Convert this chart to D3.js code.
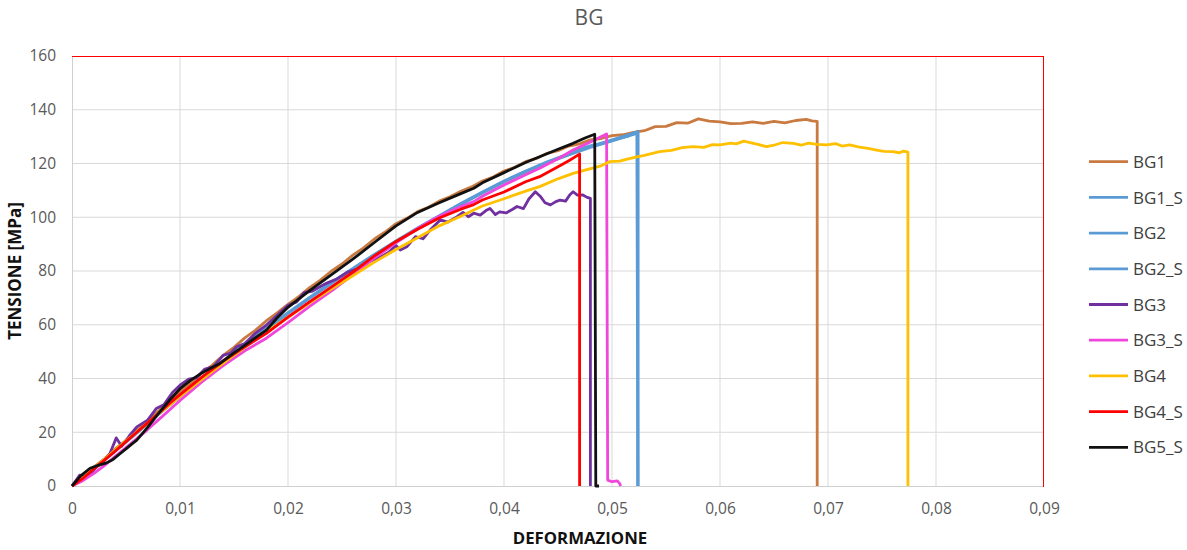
<!DOCTYPE html>
<html><head><meta charset="utf-8">
<script src="https://cdn.jsdelivr.net/npm/d3@7"></script>
<style>
html,body{margin:0;padding:0;background:#fff;}
svg{display:block;font-family:"Open Sans","Noto Sans",sans-serif;}
</style></head>
<body>
<svg id="chart" width="1187" height="550"></svg>
<script>
// ---- data ----
const xTicks = [0,0.01,0.02,0.03,0.04,0.05,0.06,0.07,0.08,0.09];
const xTickLabels = ["0","0,01","0,02","0,03","0,04","0,05","0,06","0,07","0,08","0,09"];
const yTicks = [0,20,40,60,80,100,120,140,160];
const seriesNames = ["BG1","BG1_S","BG2","BG2_S","BG3","BG3_S","BG4","BG4_S","BG5_S"];
const seriesColors = ["#C97A40","#5B9BD5","#5B9BD5","#5B9BD5","#7030A0","#F046DC","#FFC000","#FF0000","#111111"];

const BG1 = [[0,0],[0.001,3.2],[0.002,6.9],[0.003,10.1],[0.004,13.8],[0.005,17.0],[0.006,20.6],[0.007,24.3],[0.008,27.9],[0.009,31.4],[0.010,35.3],[0.011,38.4],[0.012,41.9],[0.013,45.0],[0.014,48.6],[0.015,51.6],[0.016,55.1],[0.017,58.0],[0.018,61.5],[0.019,64.4],[0.020,67.6],[0.021,70.5],[0.022,73.8],[0.023,76.6],[0.024,79.9],[0.025,82.6],[0.026,85.9],[0.027,88.6],[0.028,91.9],[0.029,94.5],[0.030,97.6],[0.031,99.6],[0.032,102.1],[0.033,103.7],[0.034,106.0],[0.035,107.6],[0.036,109.7],[0.037,111.3],[0.038,113.5],[0.039,115.0],[0.040,117.2],[0.041,118.6],[0.042,120.7],[0.043,121.9],[0.044,123.8],[0.045,124.8],[0.046,126.5],[0.047,127.3],[0.048,128.8],[0.049,129.3],[0.050,130.4],[0.051,130.7],[0.052,131.6],[0.053,132.2],[0.054,133.7],[0.055,133.8],[0.056,135.2],[0.057,135.0],[0.058,136.6],[0.059,135.8],[0.060,135.5],[0.061,134.8],[0.062,134.9],[0.063,135.5],[0.064,134.9],[0.065,135.7],[0.066,135.1],[0.067,136.0],[0.068,136.4],[0.0685,135.9],[0.069,135.7],[0.0690,0]];
const BG1_S = [[0,0],[0.002,6.2],[0.004,13.0],[0.006,19.7],[0.008,26.6],[0.010,33.2],[0.012,39.8],[0.014,46.2],[0.016,52.4],[0.018,58.3],[0.020,64.1],[0.022,69.8],[0.024,75.3],[0.026,80.6],[0.028,85.8],[0.030,90.8],[0.032,95.6],[0.034,100.2],[0.036,104.7],[0.038,109.0],[0.040,113.1],[0.042,116.8],[0.044,120.2],[0.046,123.2],[0.048,126.0],[0.050,128.4],[0.052,130.8],[0.0523,131.6],[0.0524,0]];
const BG2 = [[0,0],[0.001,3.0],[0.002,6.4],[0.003,9.8],[0.004,13.1],[0.005,16.6],[0.006,19.9],[0.007,23.3],[0.008,26.8],[0.009,30.1],[0.010,33.4],[0.012,40.0],[0.014,46.4],[0.016,52.6],[0.018,58.5],[0.020,64.3],[0.022,70.0],[0.024,75.5],[0.026,80.8],[0.028,86.0],[0.030,91.0],[0.032,95.8],[0.034,100.4],[0.036,104.9],[0.038,109.2],[0.040,113.3],[0.042,117.0],[0.044,120.4],[0.046,123.5],[0.0475,126.0],[0.0483,126.9],[0.049,127.3],[0.0498,128.2],[0.0507,129.4],[0.0515,130.2],[0.052,131.2],[0.0524,132.0],[0.0524,0]];
const BG2_S = [[0,0],[0.002,6.5],[0.004,13.2],[0.006,20.1],[0.008,26.9],[0.010,33.6],[0.012,40.2],[0.014,46.6],[0.016,52.8],[0.018,58.7],[0.020,64.5],[0.022,70.2],[0.024,75.7],[0.026,81.0],[0.028,86.2],[0.030,91.2],[0.032,96.0],[0.034,100.6],[0.036,105.1],[0.038,109.4],[0.040,113.5],[0.042,117.2],[0.044,120.6],[0.046,123.6],[0.048,126.4],[0.050,128.8],[0.052,131.3],[0.0524,131.8],[0.0524,0]];
const BG3 = [[0,0],[0.0007,4.0],[0.0015,3.6],[0.0022,6.8],[0.003,9.5],[0.0035,12.0],[0.0041,17.9],[0.0046,14.8],[0.0053,18.6],[0.006,22.0],[0.007,24.5],[0.0078,28.8],[0.0085,30.2],[0.0093,34.8],[0.010,37.5],[0.0108,39.8],[0.0115,40.2],[0.0123,43.5],[0.0131,44.4],[0.014,48.6],[0.0147,49.5],[0.01525,51.8],[0.016,53.0],[0.017,56.9],[0.018,59.9],[0.019,63.5],[0.020,67.2],[0.0208,68.5],[0.0215,72.0],[0.0222,72.4],[0.023,74.2],[0.0236,75.5],[0.0245,77.0],[0.0255,79.6],[0.0265,80.8],[0.0275,83.5],[0.0285,85.0],[0.0293,86.9],[0.0300,89.5],[0.0304,87.8],[0.031,89.0],[0.0318,92.8],[0.0325,92.0],[0.0332,95.4],[0.0341,99.0],[0.0348,98.2],[0.0355,99.8],[0.0362,101.8],[0.0367,100.2],[0.0372,101.5],[0.0378,100.8],[0.0383,102.4],[0.0387,103.3],[0.0392,101.0],[0.0396,102.0],[0.0402,101.6],[0.0408,103.0],[0.0412,104.0],[0.0418,103.2],[0.0423,106.8],[0.0429,109.5],[0.0434,107.6],[0.0438,105.4],[0.0443,104.6],[0.0448,105.8],[0.0452,106.4],[0.0457,106.0],[0.0461,108.4],[0.0464,109.5],[0.0468,108.2],[0.0473,108.3],[0.0477,107.4],[0.048,107.0],[0.048,0]];
const BG3_S = [[0,0],[0.001,2.0],[0.002,4.6],[0.003,7.6],[0.004,11.0],[0.005,14.3],[0.006,17.6],[0.007,21.0],[0.008,24.6],[0.009,28.2],[0.010,31.8],[0.012,38.6],[0.014,44.8],[0.016,50.3],[0.018,55.0],[0.020,60.8],[0.022,66.8],[0.024,72.5],[0.026,78.6],[0.028,84.8],[0.030,90.5],[0.032,95.8],[0.034,100.4],[0.036,104.0],[0.0372,105.8],[0.038,107.8],[0.040,112.0],[0.042,115.8],[0.0433,118.2],[0.045,121.8],[0.0464,125.0],[0.048,128.0],[0.0495,131.0],[0.0496,2.2],[0.0500,1.6],[0.0505,1.9],[0.0507,1.0],[0.0508,0]];
const BG4 = [[0,0],[0.001,3.0],[0.002,6.5],[0.003,9.9],[0.004,13.4],[0.005,16.8],[0.006,20.1],[0.007,23.5],[0.008,26.8],[0.009,30.0],[0.010,33.3],[0.012,39.6],[0.014,45.7],[0.016,51.6],[0.018,57.3],[0.020,62.8],[0.022,68.2],[0.024,73.3],[0.026,78.2],[0.028,83.3],[0.030,88.0],[0.032,92.4],[0.034,96.8],[0.036,100.4],[0.0372,102.7],[0.038,104.2],[0.040,106.9],[0.042,109.7],[0.0433,111.4],[0.045,114.3],[0.0464,116.3],[0.0475,117.5],[0.0489,119.0],[0.0498,120.7],[0.0507,120.9],[0.0515,121.7],[0.0523,122.5],[0.053,123.0],[0.0544,124.4],[0.0555,124.9],[0.0565,125.9],[0.0575,126.3],[0.0585,126.0],[0.0593,127.0],[0.060,126.9],[0.061,127.6],[0.0615,127.3],[0.0622,128.3],[0.063,127.6],[0.0636,127.0],[0.0643,126.3],[0.065,126.8],[0.0658,127.8],[0.0668,127.5],[0.0675,126.8],[0.0682,127.6],[0.069,127.1],[0.0699,126.9],[0.0707,127.4],[0.0713,126.5],[0.072,126.9],[0.0728,126.2],[0.0737,125.6],[0.0745,125.0],[0.0752,124.5],[0.076,124.4],[0.0766,124.0],[0.077,124.6],[0.0774,124.2],[0.0774,0]];
const BG4_S = [[0,0],[0.001,2.8],[0.002,6.3],[0.003,9.6],[0.004,13.0],[0.005,16.5],[0.006,20.0],[0.007,23.5],[0.008,27.0],[0.009,30.6],[0.010,34.0],[0.012,40.4],[0.014,46.5],[0.016,51.8],[0.018,56.8],[0.020,62.8],[0.022,68.5],[0.024,74.0],[0.026,79.6],[0.028,85.6],[0.030,91.0],[0.032,95.5],[0.034,99.7],[0.036,103.0],[0.0372,104.7],[0.038,106.4],[0.040,109.4],[0.042,113.2],[0.0433,115.1],[0.045,118.8],[0.046,121.0],[0.0470,123.5],[0.0470,0]];
const BG5_S = [[0,0],[0.0008,3.8],[0.00167,6.6],[0.0025,7.8],[0.0032,8.6],[0.0038,9.9],[0.0045,12.2],[0.005,13.8],[0.0055,15.5],[0.006,17.1],[0.007,21.8],[0.008,26.9],[0.009,31.8],[0.010,36.2],[0.011,39.4],[0.012,42.0],[0.013,44.2],[0.0137,45.6],[0.015,49.5],[0.016,52.3],[0.017,55.2],[0.018,58.0],[0.019,62.6],[0.020,66.5],[0.022,72.7],[0.024,78.6],[0.026,84.4],[0.028,90.6],[0.030,96.8],[0.032,101.8],[0.034,105.4],[0.036,108.8],[0.0372,110.8],[0.038,112.8],[0.040,116.6],[0.042,120.4],[0.0433,122.5],[0.045,125.3],[0.0464,127.5],[0.0475,129.5],[0.0484,130.9],[0.0485,0],[0.0488,0]];

const seriesData = [BG1,BG1_S,BG2,BG2_S,BG3,BG3_S,BG4,BG4_S,BG5_S];

// ---- layout ----
const svg = d3.select("#chart");
const L = 72, R = 1044, T = 56, B = 486;
const x = d3.scaleLinear().domain([0,0.09]).range([L,R]);
const y = d3.scaleLinear().domain([0,160]).range([B,T]);
const textCol = "#595959";

// title
svg.append("text").attr("x",589).attr("y",25).attr("text-anchor","middle")
  .attr("font-size",21).attr("fill",textCol).text("BG");

// grid
const g = svg.append("g");
g.selectAll("line.vg").data(xTicks.slice(1,-1)).join("line")
  .attr("x1",d=>x(d)).attr("x2",d=>x(d)).attr("y1",T).attr("y2",B)
  .attr("stroke","#D9D9D9").attr("stroke-width",1);
g.selectAll("line.hg").data(yTicks.slice(1,-1)).join("line")
  .attr("x1",L).attr("x2",R).attr("y1",d=>y(d)).attr("y2",d=>y(d))
  .attr("stroke","#D9D9D9").attr("stroke-width",1);

// red plot-area border
svg.append("rect").attr("x",L+0.5).attr("y",T+0.5).attr("width",R-L-1).attr("height",B-T)
  .attr("fill","none").attr("stroke","#FF0000").attr("stroke-width",1);

// axes
const xAxis = d3.axisBottom(x).tickValues(xTicks).tickFormat((d,i)=>xTickLabels[i]).tickSize(0).tickPadding(17);
const yAxis = d3.axisLeft(y).tickValues(yTicks).tickSize(0).tickPadding(16);
const gx = svg.append("g").attr("transform",`translate(0,${B})`).call(xAxis);
const gy = svg.append("g").attr("transform",`translate(${L},0)`).call(yAxis);
[gx,gy].forEach(a=>{
  a.select(".domain").remove();
  a.selectAll("text").attr("font-size",15.5).attr("fill",textCol).attr("font-family","'Open Sans','Noto Sans',sans-serif");
});
svg.append("line").attr("x1",L).attr("x2",R-1).attr("y1",B+0.5).attr("y2",B+0.5).attr("stroke","#D0D0D0");
svg.append("line").attr("x1",L+0.5).attr("x2",L+0.5).attr("y1",T+1).attr("y2",B).attr("stroke","#D0D0D0");

// axis titles
svg.append("text").attr("x",580).attr("y",544).attr("text-anchor","middle")
  .attr("font-size",16.8).attr("font-weight","bold").attr("fill","#111").text("DEFORMAZIONE");
svg.append("text").attr("transform","translate(21,271) rotate(-90)").attr("text-anchor","middle")
  .attr("font-size",17).attr("font-weight","bold").attr("fill","#111").text("TENSIONE [MPa]");

// series
const line = d3.line().x(d=>x(d[0])).y(d=>y(d[1]));
svg.append("g").selectAll("path").data(seriesData).join("path")
  .attr("d",line).attr("fill","none")
  .attr("stroke",(d,i)=>seriesColors[i]).attr("stroke-width",2.8)
  .attr("stroke-linejoin","round");

// legend
const lg = svg.append("g");
const leg = lg.selectAll("g").data(seriesNames).join("g")
  .attr("transform",(d,i)=>`translate(0,${161.7+i*35.7})`);
leg.append("line").attr("x1",1089).attr("x2",1128).attr("y1",0).attr("y2",0)
  .attr("stroke",(d,i)=>seriesColors[i]).attr("stroke-width",2.8);
leg.append("text").attr("x",1133).attr("y",0).attr("dy","0.36em")
  .attr("font-size",17).attr("fill","#404040").text(d=>d);
</script>
</body></html>
